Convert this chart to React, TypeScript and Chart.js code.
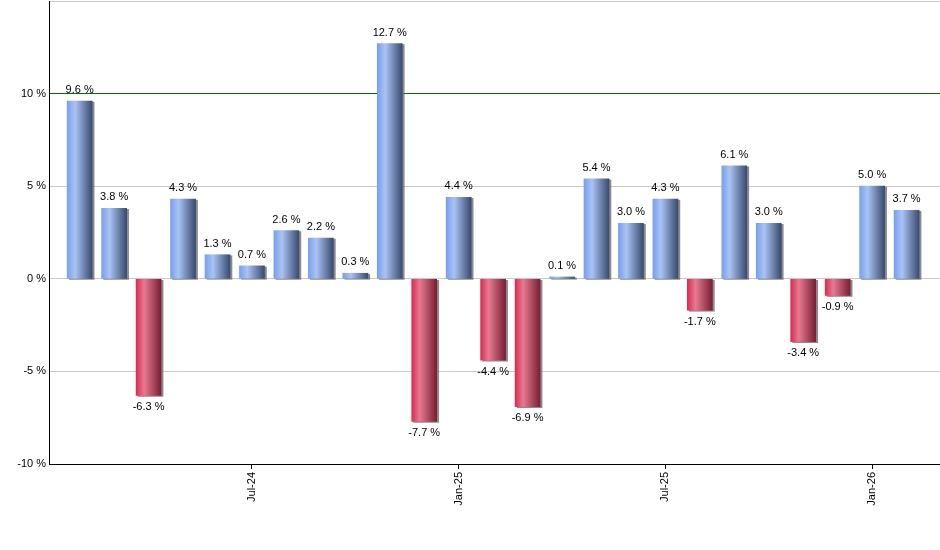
import React, { useEffect, useRef } from "react";
import { Chart, registerables } from "chart.js";

Chart.register(...registerables);

const months = [
  "Feb-24", "Mar-24", "Apr-24", "May-24", "Jun-24", "Jul-24", "Aug-24", "Sep-24", "Oct-24", "Nov-24", "Dec-24",
  "Jan-25", "Feb-25", "Mar-25", "Apr-25", "May-25", "Jun-25", "Jul-25", "Aug-25", "Sep-25", "Oct-25", "Nov-25", "Dec-25",
  "Jan-26", "Feb-26",
];
const returns = [
  9.6, 3.8, -6.3, 4.3, 1.3, 0.7, 2.6, 2.2, 0.3, 12.7, -7.7,
  4.4, -4.4, -6.9, 0.1, 5.4, 3.0, 4.3, -1.7, 6.1, 3.0, -3.4, -0.9,
  5.0, 3.7,
];
const labeledTicks = [5, 11, 17, 23];
const yTicks = [-10, -5, 0, 5, 10, 15];

const FONT = "'Liberation Sans', Arial, sans-serif";

export default function App() {
  const ref = useRef<HTMLCanvasElement>(null);

  useEffect(() => {
    if (!ref.current) return;
    const half = 12.5;

    const shadowPlugin = {
      id: "barShadow",
      beforeDatasetsDraw(chart: any) {
        const ctx = chart.ctx;
        ctx.save();
        ctx.shadowColor = "rgba(110,110,110,0.8)";
        ctx.shadowOffsetX = 2;
        ctx.shadowOffsetY = 1;
        ctx.shadowBlur = 0;
      },
      afterDatasetsDraw(chart: any) {
        const ctx = chart.ctx;
        ctx.restore();
        const meta = chart.getDatasetMeta(0);
        ctx.save();
        ctx.font = `11px ${FONT}`;
        ctx.fillStyle = "#000";
        ctx.textAlign = "center";
        meta.data.forEach((bar: any, i: number) => {
          const v = returns[i];
          const txt = v.toFixed(1) + " %";
          if (v >= 0) {
            ctx.textBaseline = "alphabetic";
            ctx.fillText(txt, bar.x, bar.y - 8);
          } else {
            ctx.textBaseline = "top";
            ctx.fillText(txt, bar.x, bar.y + 6);
          }
        });
        ctx.restore();
      },
    };

    const chart = new Chart(ref.current, {
      type: "bar",
      data: {
        datasets: [
          {
            data: returns.map((v, i) => ({ x: i, y: v })) as any,
            barThickness: 25,
            borderWidth: 0,
            backgroundColor: (c: any) => {
              const ch = c.chart;
              const v = returns[c.dataIndex];
              const neg = v < 0;
              if (!ch.chartArea || !ch.scales.x) return neg ? "#c03050" : "#6f8fd0";
              const px = ch.scales.x.getPixelForValue(c.dataIndex);
              const g = ch.ctx.createLinearGradient(px - half, 0, px + half, 0);
              if (neg) {
                g.addColorStop(0, "#dc2a52");
                g.addColorStop(0.32, "#e67a90");
                g.addColorStop(1, "#7a1f34");
              } else {
                g.addColorStop(0, "#789ff0");
                g.addColorStop(0.32, "#a9c3f3");
                g.addColorStop(1, "#394b70");
              }
              return g;
            },
          },
        ],
      },
      options: {
        animation: false,
        responsive: false,
        devicePixelRatio: 1,
        layout: { padding: { top: 1, right: 0, bottom: 0, left: 0 } },
        plugins: {
          legend: { display: false },
          tooltip: { enabled: false },
        },
        scales: {
          x: {
            type: "linear",
            offset: false,
            min: -0.89,
            max: 24.97,
            afterBuildTicks: (s: any) => {
              s.ticks = labeledTicks.map((v) => ({ value: v }));
            },
            afterFit: (s: any) => {
              s.height = 86;
              s.paddingLeft = 0;
              s.paddingRight = 0;
            },
            ticks: {
              autoSkip: false,
              maxRotation: 90,
              minRotation: 90,
              padding: 3,
              color: "#000",
              font: { family: FONT, size: 11 },
              callback: (v: any) => months[v] ?? "",
            },
            grid: {
              offset: false,
              drawOnChartArea: false,
              drawTicks: true,
              tickLength: 5,
              color: "#000",
            },
            border: { color: "#000", width: 1 },
          },
          y: {
            min: -10,
            max: 15,
            afterBuildTicks: (s: any) => {
              s.ticks = yTicks.map((v) => ({ value: v }));
            },
            afterFit: (s: any) => {
              s.width = 49;
              s.paddingTop = 0;
              s.paddingBottom = 0;
            },
            ticks: {
              padding: 3,
              color: "#000",
              font: { family: FONT, size: 11 },
              callback: (v: any) => (v === 15 ? "" : v + " %"),
            },
            grid: {
              drawTicks: false,
              color: (c: any) =>
                c.tick && c.tick.value === 10
                  ? "#007000"
                  : c.tick && c.tick.value === -10
                  ? "#000"
                  : "#c8c8c8",
              lineWidth: 1,
            },
            border: { color: "#000", width: 1 },
          },
        },
      },
      plugins: [shadowPlugin],
    });
    return () => chart.destroy();
  }, []);

  return (
    <div style={{ position: "fixed", left: 0, top: 0, width: 940, height: 550, background: "#fff" }}>
      <canvas ref={ref} width={940} height={550} style={{ display: "block" }} />
    </div>
  );
}
